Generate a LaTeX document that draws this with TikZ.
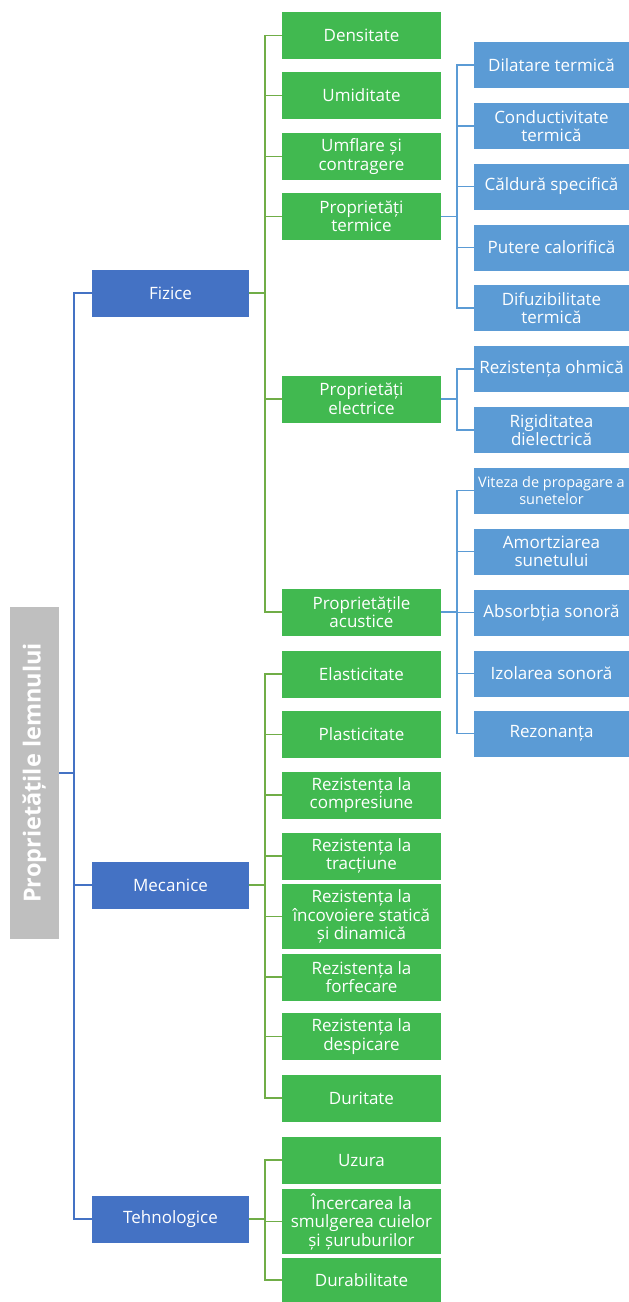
\documentclass[tikz,border=0pt]{standalone}
\usepackage{fontspec}
\setmainfont{Open Sans}
\definecolor{gfill}{RGB}{65,185,80}
\definecolor{dblue}{RGB}{68,114,196}
\definecolor{lblue}{RGB}{91,155,213}
\definecolor{gline}{RGB}{112,173,71}
\definecolor{rgray}{RGB}{191,191,191}
\tikzset{
  base/.style={text=white, align=center, inner sep=0pt, font=\fontsize{17}{18.5}\selectfont},
  l1box/.style={base, fill=dblue, minimum width=157pt, minimum height=47pt},
  gbox/.style={base, fill=gfill, minimum width=159pt, minimum height=47pt},
  bbox/.style={base, fill=lblue, minimum width=155pt, minimum height=46pt},
  gl/.style={draw=gline, line width=1.8pt},
  bl/.style={draw=lblue, line width=1.8pt},
  dl/.style={draw=dblue, line width=1.8pt},
}
\begin{document}
\begin{tikzpicture}[x=1pt,y=-1pt]
\useasboundingbox (0,0) rectangle (629,1302);
% root
\node[fill=rgray, minimum width=49pt, minimum height=332pt, inner sep=0pt] (root) at (34.5,773) {};
\node[rotate=90, text=white, font=\bfseries\fontsize{23.5}{26}\selectfont] (roottxt) at (root.center) {Proprietățile lemnului};
% level 1
\node[l1box] (fiz) at (170.5,293) {Fizice};
\node[l1box] (mec) at (170.5,885) {Mecanice};
\node[l1box] (teh) at (170.5,1219) {Tehnologice};
% green
\node[gbox] (dens) at (361.5,35.5) {Densitate};
\node[gbox] (umid) at (361.5,95.5) {Umiditate};
\node[gbox] (umfl) at (361.5,156.5) {Umflare și\\contragere};
\node[gbox] (term) at (361.5,216.5) {Proprietăți\\termice};
\node[gbox] (elec) at (361.5,399) {Proprietăți\\electrice};
\node[gbox] (acus) at (361.5,612) {Proprietățile\\acustice};
\node[gbox] (elas) at (361.5,674) {Elasticitate};
\node[gbox] (plas) at (361.5,734.5) {Plasticitate};
\node[gbox] (comp) at (361.5,795) {Rezistența la\\compresiune};
\node[gbox] (trac) at (361.5,856) {Rezistența la\\tracțiune};
\node[gbox, minimum height=65pt] (inco) at (361.5,916.5) {Rezistența la\\încovoiere statică\\și dinamică};
\node[gbox] (forf) at (361.5,977) {Rezistența la\\forfecare};
\node[gbox] (desp) at (361.5,1036.5) {Rezistența la\\despicare};
\node[gbox] (durit) at (361.5,1098) {Duritate};
\node[gbox] (uzur) at (361.5,1160) {Uzura};
\node[gbox, minimum height=65pt] (ince) at (361.5,1221.5) {Încercarea la\\smulgerea cuielor\\și șuruburilor};
\node[gbox, minimum height=44pt] (durab) at (361.5,1280) {Durabilitate};
% right blue
\node[bbox] (dila) at (551.5,65) {Dilatare termică};
\node[bbox] (cond) at (551.5,126) {Conductivitate\\termică};
\node[bbox] (cald) at (551.5,186.5) {Căldură specifică};
\node[bbox] (pute) at (551.5,247.5) {Putere calorifică};
\node[bbox] (difu) at (551.5,308) {Difuzibilitate\\termică};
\node[bbox] (ohm) at (551.5,369) {Rezistența ohmică};
\node[bbox] (rigi) at (551.5,430) {Rigiditatea\\dielectrică};
\node[bbox, font=\fontsize{14.5}{17}\selectfont] (vite) at (551.5,490.5) {Viteza de propagare a\\sunetelor};
\node[bbox] (amor) at (551.5,551.5) {Amortziarea\\sunetului};
\node[bbox] (abso) at (551.5,612.5) {Absorbția sonoră};
\node[bbox] (izol) at (551.5,673.5) {Izolarea sonoră};
\node[bbox] (rezo) at (551.5,733.5) {Rezonanța};
% connectors root
\foreach \c in {fiz,mec,teh} \draw[dl] (root.east) -- ++(15,0) |- (\c.west);
% level 2
\foreach \c in {dens,umid,umfl,term,elec,acus} \draw[gl] (fiz.east) -- ++(16,0) |- (\c.west);
\foreach \c in {elas,plas,comp,trac,inco,forf,desp,durit} \draw[gl] (mec.east) -- ++(16,0) |- (\c.west);
\foreach \c in {uzur,ince,durab} \draw[gl] (teh.east) -- ++(16,0) |- (\c.west);
% level 3
\foreach \c in {dila,cond,cald,pute,difu} \draw[bl] (term.east) -- ++(16,0) |- (\c.west);
\foreach \c in {ohm,rigi} \draw[bl] (elec.east) -- ++(16,0) |- (\c.west);
\foreach \c in {vite,amor,abso,izol,rezo} \draw[bl] (acus.east) -- ++(16,0) |- (\c.west);
\end{tikzpicture}
\end{document}
